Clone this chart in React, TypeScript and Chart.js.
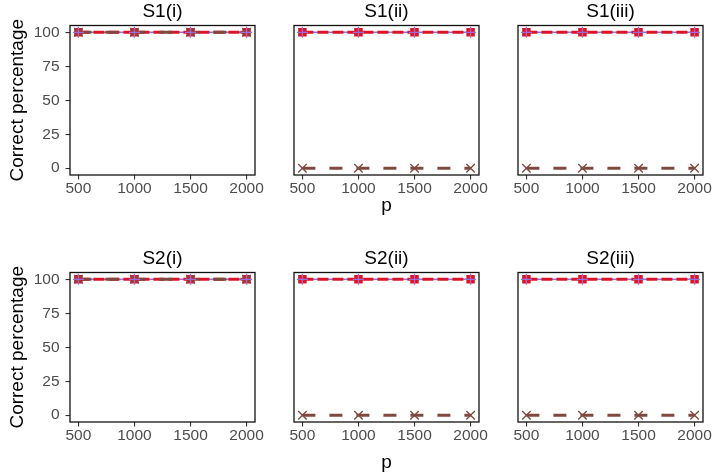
import React, { useEffect, useRef } from 'react';
import { Chart, registerables } from 'chart.js';

Chart.register(...registerables);

// ---------- data ----------
const pValues = [500, 1000, 1500, 2000];
const xTicks = [500, 1000, 1500, 2000];
const yTicks = [0, 25, 50, 75, 100];
const panelTitles = ['S1(i)', 'S1(ii)', 'S1(iii)', 'S2(i)', 'S2(ii)', 'S2(iii)'];
const purpleSeries = [
  [100, 100, 100, 100],
  [100, 100, 100, 100],
  [100, 100, 100, 100],
  [100, 100, 100, 100],
  [100, 100, 100, 100],
  [100, 100, 100, 100],
];
const redSeries = [
  [100, 100, 100, 100],
  [100, 100, 100, 100],
  [100, 100, 100, 100],
  [100, 100, 100, 100],
  [100, 100, 100, 100],
  [100, 100, 100, 100],
];
const brownSeries = [
  [100, 100, 100, 100],
  [0, 0, 0, 0],
  [0, 0, 0, 0],
  [100, 100, 100, 100],
  [0, 0, 0, 0],
  [0, 0, 0, 0],
];
const yAxisTitle = 'Correct percentage';
const xAxisTitle = 'p';

// ---------- layout / style ----------
const FONT = "'Liberation Sans', Arial, Helvetica, sans-serif";
const PURPLE = '#9370DB';
const RED = '#DD1427';
const BROWN = '#80493F';
const COL_LEFT = [70, 294, 518];
const ROW_TOP = [0, 247];
const AXIS_W = 70;
const PLOT_W = 185;
const PAD_R = 20;
const TITLE_H = 25.5;
const PLOT_H = 149.5;
const XAXIS_H = [50, 53];
const XTITLE_PB = [7.6, 0.6];

const boxPlugin = {
  id: 'panelBox',
  afterDatasetsDraw(chart: any) {
    const { ctx, chartArea: a } = chart;
    ctx.save();
    ctx.strokeStyle = '#111111';
    ctx.lineWidth = 1.3;
    ctx.strokeRect(a.left, a.top, a.right - a.left, a.bottom - a.top);
    ctx.restore();
  },
};

function Panel({ idx }: { idx: number }) {
  const ref = useRef<HTMLCanvasElement | null>(null);
  const row = Math.floor(idx / 3);
  const col = idx % 3;
  const w = AXIS_W + PLOT_W + PAD_R;
  const h = TITLE_H + PLOT_H + XAXIS_H[row];

  useEffect(() => {
    if (!ref.current) return;
    const mk = (vals: number[]) => pValues.map((x, i) => ({ x, y: vals[i] }));
    const chart = new Chart(ref.current, {
      type: 'line',
      data: {
        datasets: [
          { label: 'm1', data: mk(purpleSeries[idx]), borderColor: PURPLE, borderWidth: 1.4, pointRadius: 0, fill: false, order: 6 },
          { label: 'm2', data: mk(redSeries[idx]), borderColor: RED, borderWidth: 3, borderDash: [11, 4], pointRadius: 0, fill: false, order: 5 },
          { label: 'm3', data: mk(brownSeries[idx]), borderColor: BROWN, borderWidth: 3, borderDash: [13, 14], pointRadius: 0, fill: false, order: 4 },
          { label: 'm2p', data: mk(redSeries[idx]), showLine: false, pointStyle: 'rect', pointRadius: 6, pointBackgroundColor: RED, pointBorderColor: RED, pointBorderWidth: 0, order: 3 },
          { label: 'm3p', data: mk(brownSeries[idx]), showLine: false, pointStyle: 'crossRot', pointRadius: 6, pointBackgroundColor: BROWN, pointBorderColor: BROWN, pointBorderWidth: 1.3, order: 2 },
          { label: 'm1p', data: mk(purpleSeries[idx]), showLine: false, pointStyle: 'cross', pointRadius: 5.5, pointBackgroundColor: PURPLE, pointBorderColor: PURPLE, pointBorderWidth: 1.3, order: 1 },
        ] as any,
      },
      options: {
        animation: false,
        responsive: false,
        maintainAspectRatio: false,
        events: [],
        layout: { padding: { top: 0, left: 0, right: PAD_R, bottom: 0 } },
        plugins: {
          legend: { display: false },
          tooltip: { enabled: false },
          title: {
            display: true,
            fullSize: false,
            text: panelTitles[idx],
            color: '#000000',
            font: { family: FONT, size: 19, weight: 'normal' },
            padding: { top: 0.5, bottom: 2.2 },
          },
        },
        scales: {
          x: {
            type: 'linear',
            min: 425,
            max: 2075,
            afterBuildTicks: (s: any) => {
              s.ticks = xTicks.map((v) => ({ value: v }));
            },
            afterFit: (s: any) => {
              s.height = XAXIS_H[row];
            },
            ticks: {
              color: '#4D4D4D',
              font: { family: FONT, size: 15.5 },
              padding: 0,
              maxRotation: 0,
              autoSkip: false,
              callback: (v: any) => String(v),
            },
            grid: { display: true, drawOnChartArea: false, drawTicks: true, tickLength: 4.5, color: '#333333', lineWidth: 1.1 },
            border: { display: false },
            title: {
              display: col === 1,
              text: xAxisTitle,
              color: '#000000',
              font: { family: FONT, size: 19 },
              padding: { top: 0, bottom: XTITLE_PB[row] },
            },
          },
          y: {
            type: 'linear',
            min: -5,
            max: 105,
            afterBuildTicks: (s: any) => {
              s.ticks = yTicks.map((v) => ({ value: v }));
            },
            afterFit: (s: any) => {
              s.width = AXIS_W;
            },
            ticks: {
              display: col === 0,
              color: '#4D4D4D',
              font: { family: FONT, size: 15.5 },
              padding: 6,
              callback: (v: any) => String(v),
            },
            grid: { display: col === 0, drawOnChartArea: false, drawTicks: true, tickLength: 4.5, color: '#333333', lineWidth: 1.1 },
            border: { display: false },
            title: {
              display: col === 0,
              text: yAxisTitle,
              color: '#000000',
              font: { family: FONT, size: 19 },
              padding: { top: 6.5, bottom: 0 },
            },
          },
        },
      } as any,
      plugins: [boxPlugin],
    });
    return () => chart.destroy();
  }, [idx]);

  return (
    <canvas
      ref={ref}
      width={w}
      height={h}
      style={{ position: 'absolute', left: COL_LEFT[col] - AXIS_W, top: ROW_TOP[row], width: w, height: h }}
    />
  );
}

export default function App() {
  return (
    <div
      style={{
        position: 'fixed',
        left: 0,
        top: 0,
        width: 714,
        height: 475,
        overflow: 'hidden',
        background: '#ffffff',
      }}
    >
      {panelTitles.map((_, i) => (
        <Panel key={i} idx={i} />
      ))}
    </div>
  );
}
